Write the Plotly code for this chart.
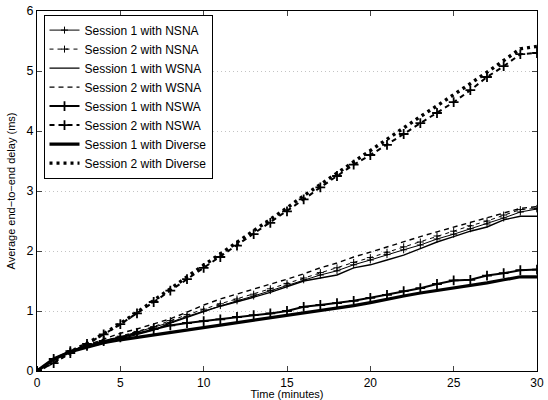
import plotly.graph_objects as go

minutes = list(range(0, 31))

nsna_s1 = [0, 0.19, 0.33, 0.41, 0.49, 0.56, 0.64, 0.72, 0.81, 0.91, 1.0, 1.09, 1.17, 1.25, 1.34, 1.43,
           1.52, 1.6, 1.67, 1.77, 1.85, 1.94, 2.02, 2.1, 2.2, 2.28, 2.37, 2.45, 2.55, 2.65, 2.7]
nsna_s2 = [0, 0.2, 0.34, 0.42, 0.5, 0.58, 0.66, 0.74, 0.84, 0.94, 1.03, 1.12, 1.2, 1.28, 1.37, 1.46,
           1.55, 1.64, 1.72, 1.81, 1.89, 1.98, 2.07, 2.15, 2.25, 2.33, 2.42, 2.5, 2.6, 2.69, 2.71]
wsna_s1 = [0, 0.2, 0.32, 0.4, 0.46, 0.53, 0.6, 0.68, 0.8, 0.9, 0.99, 1.08, 1.15, 1.23, 1.31, 1.4,
           1.5, 1.55, 1.6, 1.72, 1.77, 1.85, 1.93, 2.04, 2.15, 2.24, 2.33, 2.4, 2.52, 2.58, 2.58]
wsna_s2 = [0, 0.18, 0.33, 0.43, 0.53, 0.63, 0.7, 0.78, 0.87, 0.98, 1.1, 1.2, 1.28, 1.36, 1.44, 1.53,
           1.62, 1.72, 1.8, 1.9, 1.98, 2.07, 2.15, 2.24, 2.32, 2.4, 2.48, 2.55, 2.63, 2.71, 2.74]
nswa_s1 = [0, 0.2, 0.33, 0.42, 0.5, 0.56, 0.63, 0.7, 0.76, 0.8, 0.83, 0.86, 0.9, 0.93, 0.96, 1.0,
           1.07, 1.1, 1.13, 1.17, 1.22, 1.27, 1.33, 1.38, 1.45, 1.51, 1.52, 1.59, 1.63, 1.68, 1.69]
nswa_s2 = [0, 0.13, 0.3, 0.45, 0.61, 0.78, 0.96, 1.15, 1.34, 1.53, 1.72, 1.9, 2.09, 2.28, 2.47, 2.66,
           2.86, 3.06, 3.25, 3.44, 3.6, 3.77, 3.95, 4.13, 4.3, 4.48, 4.68, 4.9, 5.08, 5.28, 5.3]
diverse_s1 = [0, 0.2, 0.32, 0.4, 0.47, 0.52, 0.56, 0.6, 0.64, 0.68, 0.72, 0.76, 0.8, 0.84, 0.88, 0.92,
              0.96, 1.0, 1.04, 1.09, 1.14, 1.2, 1.25, 1.3, 1.34, 1.38, 1.42, 1.47, 1.52, 1.57, 1.57]
diverse_s2 = [0, 0.15, 0.32, 0.46, 0.62, 0.79, 0.98, 1.17, 1.37, 1.57, 1.76, 1.95, 2.14, 2.34, 2.53, 2.72,
              2.92, 3.11, 3.3, 3.49, 3.68, 3.87, 4.06, 4.24, 4.42, 4.6, 4.79, 4.98, 5.18, 5.37, 5.41]

x_ticks = [0, 5, 10, 15, 20, 25, 30]
y_ticks = [0, 1, 2, 3, 4, 5, 6]

series = [
    ("Session 1 with NSNA", nsna_s1, dict(width=1.0, dash="solid"), dict(size=5, lw=1.0)),
    ("Session 2 with NSNA", nsna_s2, dict(width=1.0, dash="4px,4px"), dict(size=5, lw=1.0)),
    ("Session 1 with WSNA", wsna_s1, dict(width=1.4, dash="solid"), None),
    ("Session 2 with WSNA", wsna_s2, dict(width=1.4, dash="5px,4px"), None),
    ("Session 1 with NSWA", nswa_s1, dict(width=2.0, dash="solid"), dict(size=7, lw=1.8)),
    ("Session 2 with NSWA", nswa_s2, dict(width=2.0, dash="5px,4px"), dict(size=7, lw=1.8)),
    ("Session 1 with Diverse", diverse_s1, dict(width=3.2, dash="solid"), None),
    ("Session 2 with Diverse", diverse_s2, dict(width=3.4, dash="3px,4px"), None),
]

fig = go.Figure()
for name, ys, ln, mk in series:
    kw = {}
    if mk is not None:
        mode = "lines+markers"
        kw["marker"] = dict(symbol="cross-thin", size=mk["size"], color="black",
                            line=dict(width=mk["lw"], color="black"))
    else:
        mode = "lines"
    fig.add_trace(go.Scatter(x=minutes, y=ys, name=name, mode=mode,
                             line=dict(color="black", width=ln["width"], dash=ln["dash"]),
                             **kw))

font_family = "Liberation Sans, Arial, sans-serif"
fig.update_layout(
    width=548, height=400,
    margin=dict(l=37, r=11, t=11, b=29, autoexpand=False),
    paper_bgcolor="white", plot_bgcolor="white",
    font=dict(family=font_family, size=12, color="black"),
    showlegend=True,
    legend=dict(x=0.013, y=0.99, xanchor="left", yanchor="top",
                bgcolor="white", bordercolor="black", borderwidth=1,
                font=dict(size=12, family=font_family), tracegroupgap=0,
                itemwidth=30),
    xaxis=dict(range=[0, 30], tickvals=x_ticks, ticks="inside", ticklen=5,
               showline=True, linecolor="black", linewidth=1.2, mirror="ticks",
               showgrid=False, zeroline=False, automargin=False,
               title=dict(text="Time (minutes)", font=dict(size=11), standoff=1),
               tickfont=dict(size=12)),
    yaxis=dict(range=[0, 6], tickvals=y_ticks, ticks="inside", ticklen=5,
               showline=True, linecolor="black", linewidth=1.2, mirror="ticks",
               showgrid=True, gridcolor="#c4c4c4", griddash="1px,3px", gridwidth=1,
               zeroline=False, automargin=False,
               title=dict(text="Average end\u2212to\u2212end delay (ms)", font=dict(size=11), standoff=8),
               tickfont=dict(size=12.5)),
)

fig.write_html("out.html", config={"displayModeBar": False},
               post_script="document.body.style.margin='0';")
